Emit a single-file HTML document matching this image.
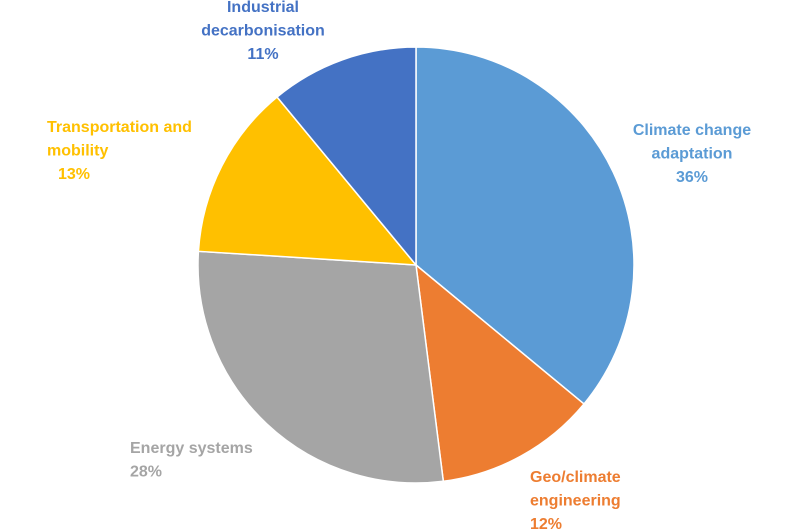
<!DOCTYPE html>
<html><head><meta charset="utf-8"><style>
html,body{margin:0;padding:0;background:#fff;}
#wrap{position:relative;width:800px;height:530px;overflow:hidden;}
svg text{font-family:"Liberation Sans",sans-serif;font-weight:bold;font-size:16px;}
</style></head><body>
<div id="wrap">
<svg id="chart" width="800" height="530"></svg>
</div>
<script>
const categories = ["Climate change adaptation","Geo/climate engineering","Energy systems","Transportation and mobility","Industrial decarbonisation"];
const values = [36, 12, 28, 13, 11];
const colors = ["#5B9BD5","#ED7D31","#A5A5A5","#FFC000","#4472C4"];
const labelLines = [["Climate change","adaptation"],["Geo/climate","engineering"],["Energy systems"],["Transportation and","mobility"],["Industrial","decarbonisation"]];
const NS="http://www.w3.org/2000/svg";
const svg=document.getElementById('chart');
const cx=416, cy=265, r=218;
const total=values.reduce((a,b)=>a+b,0);
function pt(frac,rad){const a=frac*2*Math.PI;return [cx+rad*Math.sin(a),cy-rad*Math.cos(a)];}
const labelPos=[
 {x:692,y:135,anchor:"middle"},
 {x:530,y:482,anchor:"start"},
 {x:130,y:453,anchor:"start"},
 {x:47,y:132,anchor:"start"},
 {x:263,y:12,anchor:"middle"}
];
let acc=0;
values.forEach((v,i)=>{
  const s=acc/total, e=(acc+v)/total; acc+=v;
  const [x1,y1]=pt(s,r),[x2,y2]=pt(e,r);
  const large=(e-s)>0.5?1:0;
  const p=document.createElementNS(NS,'path');
  p.setAttribute('d',`M${cx},${cy}L${x1},${y1}A${r},${r} 0 ${large} 1 ${x2},${y2}Z`);
  p.setAttribute('fill',colors[i]);
  p.setAttribute('stroke','#fff');
  p.setAttribute('stroke-width','1.5');
  
  
  svg.appendChild(p);
});
values.forEach((v,i)=>{
  const lp=labelPos[i];
  const t=document.createElementNS(NS,'text');
  t.setAttribute('x',lp.x);t.setAttribute('y',lp.y);
  t.setAttribute('text-anchor',lp.anchor);
  t.setAttribute('fill',colors[i]);
  
  
  const lines=labelLines[i].concat([v+'%']);
  lines.forEach((ln,j)=>{
    const ts=document.createElementNS(NS,'tspan');
    ts.setAttribute('x', (lp.anchor==='start' && j===lines.length-1 && i===3)? lp.x+11 : lp.x);
    ts.setAttribute('dy', j===0?0:23.5);
    ts.textContent=ln;
    t.appendChild(ts);
  });
  svg.appendChild(t);
});
</script>
</body></html>
